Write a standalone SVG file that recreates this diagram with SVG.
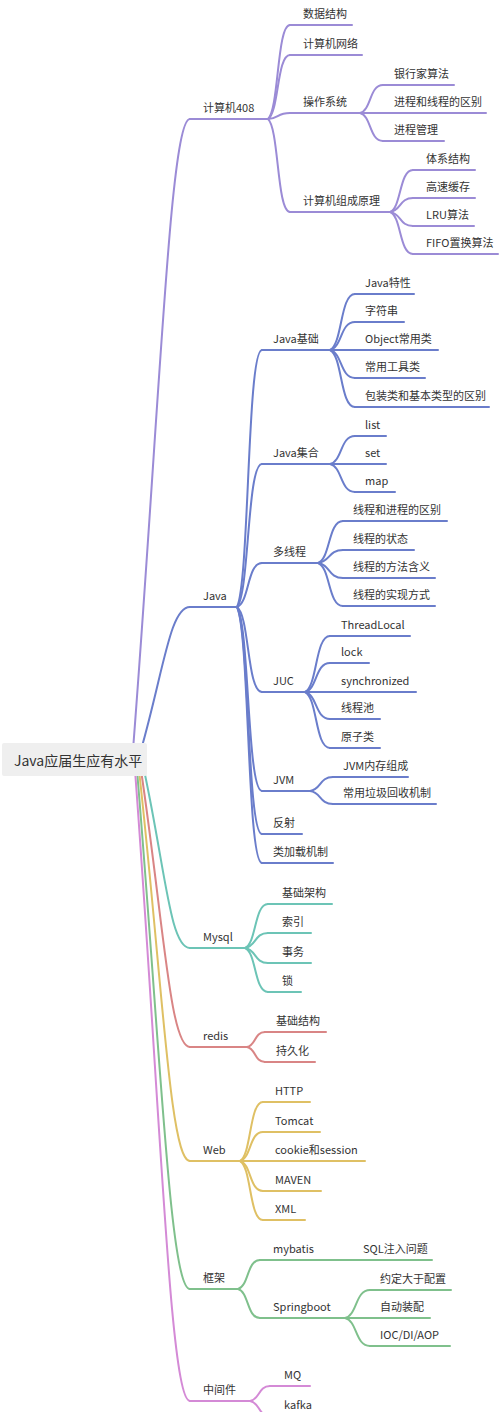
<svg xmlns="http://www.w3.org/2000/svg" width="500" height="1412" viewBox="0 0 500 1412">
<style>
text{font-family:"Noto Sans CJK SC","Noto Sans",sans-serif;font-size:11px;fill:#333}
.root{font-size:14px}
path,line{fill:none;stroke-width:2;stroke-linecap:round}
.p{stroke:#9b8bd6}.b{stroke:#6a7dcb}.m{stroke:#6cc4b6}.r{stroke:#d98585}.w{stroke:#dfc064}.g{stroke:#7fc08c}.k{stroke:#d48ad6}
</style>
<rect width="500" height="1412" fill="#fff"/>
<g id="connectors">
<path class="p" d="M133 750 C160 400 170 119 190 119"/>
<path class="b" d="M141 750 C164 669 170 607 190 607"/>
<path class="m" d="M144 770 C165.6 870.6 170 948 190 948"/>
<path class="r" d="M141 770 C164 926 170 1047 190 1047"/>
<path class="w" d="M139 770 C163 988 170 1161 190 1161"/>
<path class="g" d="M137 770 C161 1059 170 1289 190 1289"/>
<path class="k" d="M135 770 C161 1120 170 1401 190 1401"/>
<path class="p" d="M268 119 C279 109.6 276.8 25 290 25"/>
<path class="p" d="M268 119 C279 112.6 276.8 55 290 55"/>
<path class="p" d="M268 119 C279 118.4 276.8 113 290 113"/>
<path class="p" d="M268 119 C279 128.3 276.8 212 290 212"/>
<path class="p" d="M360 113 C371.5 110.2 369.2 85 383 85"/>
<path class="p" d="M360 113 L383 113"/>
<path class="p" d="M360 113 C371.5 115.8 369.2 141 383 141"/>
<path class="p" d="M390 212 C401.5 207.8 399.2 170 413 170"/>
<path class="p" d="M390 212 C401.5 210.6 399.2 198 413 198"/>
<path class="p" d="M390 212 C401.5 213.4 399.2 226 413 226"/>
<path class="p" d="M390 212 C401.5 216.2 399.2 254 413 254"/>
<path class="b" d="M237 607 C249.5 581.3 247 350 262 350"/>
<path class="b" d="M237 607 C249.5 592.7 247 464 262 464"/>
<path class="b" d="M237 607 C249.5 602.6 247 563 262 563"/>
<path class="b" d="M237 607 C249.5 615.5 247 692 262 692"/>
<path class="b" d="M237 607 C249.5 625.4 247 791 262 791"/>
<path class="b" d="M237 607 C249.5 629.7 247 834 262 834"/>
<path class="b" d="M237 607 C249.5 632.6 247 863 262 863"/>
<path class="b" d="M330 350 C342.5 344.4 340 294 355 294"/>
<path class="b" d="M330 350 C342.5 347.2 340 322 355 322"/>
<path class="b" d="M330 350 L355 350"/>
<path class="b" d="M330 350 C342.5 352.8 340 378 355 378"/>
<path class="b" d="M330 350 C342.5 355.7 340 407 355 407"/>
<path class="b" d="M330 464 C342.5 461.2 340 436 355 436"/>
<path class="b" d="M330 464 L355 464"/>
<path class="b" d="M330 464 C342.5 466.8 340 492 355 492"/>
<path class="b" d="M318 563 C330.5 558.8 328 521 343 521"/>
<path class="b" d="M318 563 C330.5 561.7 328 550 343 550"/>
<path class="b" d="M318 563 C330.5 564.5 328 578 343 578"/>
<path class="b" d="M318 563 C330.5 567.3 328 606 343 606"/>
<path class="b" d="M305 692 C317.5 686.4 315 636 330 636"/>
<path class="b" d="M305 692 C317.5 689.1 315 663 330 663"/>
<path class="b" d="M305 692 L330 692"/>
<path class="b" d="M305 692 C317.5 694.7 315 719 330 719"/>
<path class="b" d="M305 692 C317.5 697.6 315 748 330 748"/>
<path class="b" d="M310 791 C321.5 789.6 319.2 777 333 777"/>
<path class="b" d="M310 791 C321.5 792.3 319.2 804 333 804"/>
<path class="m" d="M245 948 C256.5 943.6 254.2 904 268 904"/>
<path class="m" d="M245 948 C256.5 946.5 254.2 933 268 933"/>
<path class="m" d="M245 948 C256.5 949.5 254.2 963 268 963"/>
<path class="m" d="M245 948 C256.5 952.4 254.2 992 268 992"/>
<path class="r" d="M247 1047 C256 1045.5 254.2 1032 265 1032"/>
<path class="r" d="M247 1047 C256 1048.5 254.2 1062 265 1062"/>
<path class="w" d="M240 1161 C251.5 1155.1 249.2 1102 263 1102"/>
<path class="w" d="M240 1161 C251.5 1158.1 249.2 1132 263 1132"/>
<path class="w" d="M240 1161 L263 1161"/>
<path class="w" d="M240 1161 C251.5 1164 249.2 1191 263 1191"/>
<path class="w" d="M240 1161 C251.5 1166.9 249.2 1220 263 1220"/>
<path class="g" d="M238 1289 C249 1286.1 246.8 1260 260 1260"/>
<path class="g" d="M238 1289 C249 1291.9 246.8 1318 260 1318"/>
<path class="g" d="M345 1318 C357.5 1315.2 355 1290 370 1290"/>
<path class="g" d="M345 1318 L370 1318"/>
<path class="g" d="M345 1318 C357.5 1320.8 355 1346 370 1346"/>
<path class="k" d="M250 1401 C260 1399.5 258 1386 270 1386"/>
<path class="k" d="M250 1401 C260 1402.5 258 1416 270 1416"/>
</g>
<g id="root"><rect x="2" y="743" width="145" height="33" rx="2" fill="#efefef"/><text class="root" x="14" y="766">Java应届生应有水平</text></g>
<g id="n408"><line class="p" x1="190" y1="119" x2="268" y2="119"/><text x="203" y="112">计算机408</text></g>
<g id="n408-1"><line class="p" x1="290" y1="25" x2="352" y2="25"/><text x="303" y="18">数据结构</text></g>
<g id="n408-2"><line class="p" x1="290" y1="55" x2="362" y2="55"/><text x="303" y="48">计算机网络</text></g>
<g id="n408-3"><line class="p" x1="290" y1="113" x2="360" y2="113"/><text x="303" y="106">操作系统</text></g>
<g id="n408-3-1"><line class="p" x1="383" y1="85" x2="454" y2="85"/><text x="394" y="78">银行家算法</text></g>
<g id="n408-3-2"><line class="p" x1="383" y1="113" x2="486" y2="113"/><text x="394" y="106">进程和线程的区别</text></g>
<g id="n408-3-3"><line class="p" x1="383" y1="141" x2="444" y2="141"/><text x="394" y="134">进程管理</text></g>
<g id="n408-4"><line class="p" x1="290" y1="212" x2="390" y2="212"/><text x="303" y="205">计算机组成原理</text></g>
<g id="n408-4-1"><line class="p" x1="413" y1="170" x2="475" y2="170"/><text x="426" y="163">体系结构</text></g>
<g id="n408-4-2"><line class="p" x1="413" y1="198" x2="475" y2="198"/><text x="426" y="191">高速缓存</text></g>
<g id="n408-4-3"><line class="p" x1="413" y1="226" x2="474" y2="226"/><text x="426" y="219">LRU算法</text></g>
<g id="n408-4-4"><line class="p" x1="413" y1="254" x2="498" y2="254"/><text x="426" y="247">FIFO置换算法</text></g>
<g id="njava"><line class="b" x1="190" y1="607" x2="237" y2="607"/><text x="203" y="600">Java</text></g>
<g id="njava-1"><line class="b" x1="262" y1="350" x2="330" y2="350"/><text x="273" y="343">Java基础</text></g>
<g id="njava-1-1"><line class="b" x1="355" y1="294" x2="414" y2="294"/><text x="365" y="287">Java特性</text></g>
<g id="njava-1-2"><line class="b" x1="355" y1="322" x2="404" y2="322"/><text x="365" y="315">字符串</text></g>
<g id="njava-1-3"><line class="b" x1="355" y1="350" x2="438" y2="350"/><text x="365" y="343">Object常用类</text></g>
<g id="njava-1-4"><line class="b" x1="355" y1="378" x2="425" y2="378"/><text x="365" y="371">常用工具类</text></g>
<g id="njava-1-5"><line class="b" x1="355" y1="407" x2="489" y2="407"/><text x="365" y="400">包装类和基本类型的区别</text></g>
<g id="njava-2"><line class="b" x1="262" y1="464" x2="330" y2="464"/><text x="273" y="457">Java集合</text></g>
<g id="njava-2-1"><line class="b" x1="355" y1="436" x2="386" y2="436"/><text x="365" y="429">list</text></g>
<g id="njava-2-2"><line class="b" x1="355" y1="464" x2="386" y2="464"/><text x="365" y="457">set</text></g>
<g id="njava-2-3"><line class="b" x1="355" y1="492" x2="395" y2="492"/><text x="365" y="485">map</text></g>
<g id="njava-3"><line class="b" x1="262" y1="563" x2="318" y2="563"/><text x="273" y="556">多线程</text></g>
<g id="njava-3-1"><line class="b" x1="343" y1="521" x2="447" y2="521"/><text x="353" y="514">线程和进程的区别</text></g>
<g id="njava-3-2"><line class="b" x1="343" y1="550" x2="414" y2="550"/><text x="353" y="543">线程的状态</text></g>
<g id="njava-3-3"><line class="b" x1="343" y1="578" x2="435" y2="578"/><text x="353" y="571">线程的方法含义</text></g>
<g id="njava-3-4"><line class="b" x1="343" y1="606" x2="435" y2="606"/><text x="353" y="599">线程的实现方式</text></g>
<g id="njava-4"><line class="b" x1="262" y1="692" x2="305" y2="692"/><text x="273" y="685">JUC</text></g>
<g id="njava-4-1"><line class="b" x1="330" y1="636" x2="410" y2="636"/><text x="341" y="629">ThreadLocal</text></g>
<g id="njava-4-2"><line class="b" x1="330" y1="663" x2="369" y2="663"/><text x="341" y="656">lock</text></g>
<g id="njava-4-3"><line class="b" x1="330" y1="692" x2="416" y2="692"/><text x="341" y="685">synchronized</text></g>
<g id="njava-4-4"><line class="b" x1="330" y1="719" x2="380" y2="719"/><text x="341" y="712">线程池</text></g>
<g id="njava-4-5"><line class="b" x1="330" y1="748" x2="380" y2="748"/><text x="341" y="741">原子类</text></g>
<g id="njava-5"><line class="b" x1="262" y1="791" x2="310" y2="791"/><text x="273" y="784">JVM</text></g>
<g id="njava-5-1"><line class="b" x1="333" y1="777" x2="408" y2="777"/><text x="343" y="770">JVM内存组成</text></g>
<g id="njava-5-2"><line class="b" x1="333" y1="804" x2="436" y2="804"/><text x="343" y="797">常用垃圾回收机制</text></g>
<g id="njava-6"><line class="b" x1="262" y1="834" x2="302" y2="834"/><text x="273" y="827">反射</text></g>
<g id="njava-7"><line class="b" x1="262" y1="863" x2="333" y2="863"/><text x="273" y="856">类加载机制</text></g>
<g id="nmysql"><line class="m" x1="190" y1="948" x2="245" y2="948"/><text x="203" y="941">Mysql</text></g>
<g id="nmysql-1"><line class="m" x1="268" y1="904" x2="332" y2="904"/><text x="282" y="897">基础架构</text></g>
<g id="nmysql-2"><line class="m" x1="268" y1="933" x2="311" y2="933"/><text x="282" y="926">索引</text></g>
<g id="nmysql-3"><line class="m" x1="268" y1="963" x2="311" y2="963"/><text x="282" y="956">事务</text></g>
<g id="nmysql-4"><line class="m" x1="268" y1="992" x2="301" y2="992"/><text x="282" y="985">锁</text></g>
<g id="nredis"><line class="r" x1="190" y1="1047" x2="247" y2="1047"/><text x="203" y="1040">redis</text></g>
<g id="nredis-1"><line class="r" x1="265" y1="1032" x2="326" y2="1032"/><text x="276" y="1025">基础结构</text></g>
<g id="nredis-2"><line class="r" x1="265" y1="1062" x2="315" y2="1062"/><text x="276" y="1055">持久化</text></g>
<g id="nweb"><line class="w" x1="190" y1="1161" x2="240" y2="1161"/><text x="203" y="1154">Web</text></g>
<g id="nweb-1"><line class="w" x1="263" y1="1102" x2="310" y2="1102"/><text x="275" y="1095">HTTP</text></g>
<g id="nweb-2"><line class="w" x1="263" y1="1132" x2="320" y2="1132"/><text x="275" y="1125">Tomcat</text></g>
<g id="nweb-3"><line class="w" x1="263" y1="1161" x2="365" y2="1161"/><text x="275" y="1154">cookie和session</text></g>
<g id="nweb-4"><line class="w" x1="263" y1="1191" x2="321" y2="1191"/><text x="275" y="1184">MAVEN</text></g>
<g id="nweb-5"><line class="w" x1="263" y1="1220" x2="305" y2="1220"/><text x="275" y="1213">XML</text></g>
<g id="nframe"><line class="g" x1="190" y1="1289" x2="238" y2="1289"/><text x="203" y="1282">框架</text></g>
<g id="nframe-1"><line class="g" x1="260" y1="1260" x2="350" y2="1260"/><text x="273" y="1253">mybatis</text></g>
<g id="nframe-1-1"><line class="g" x1="350" y1="1260" x2="432" y2="1260"/><text x="363" y="1253">SQL注入问题</text></g>
<g id="nframe-2"><line class="g" x1="260" y1="1318" x2="345" y2="1318"/><text x="273" y="1311">Springboot</text></g>
<g id="nframe-2-1"><line class="g" x1="370" y1="1290" x2="451" y2="1290"/><text x="380" y="1283">约定大于配置</text></g>
<g id="nframe-2-2"><line class="g" x1="370" y1="1318" x2="430" y2="1318"/><text x="380" y="1311">自动装配</text></g>
<g id="nframe-2-3"><line class="g" x1="370" y1="1346" x2="450" y2="1346"/><text x="380" y="1339">IOC/DI/AOP</text></g>
<g id="nmid"><line class="k" x1="190" y1="1401" x2="250" y2="1401"/><text x="203" y="1394">中间件</text></g>
<g id="nmid-1"><line class="k" x1="270" y1="1386" x2="310" y2="1386"/><text x="284" y="1379">MQ</text></g>
<g id="nmid-2"><line class="k" x1="270" y1="1416" x2="318" y2="1416"/><text x="284" y="1409">kafka</text></g>
</svg>
